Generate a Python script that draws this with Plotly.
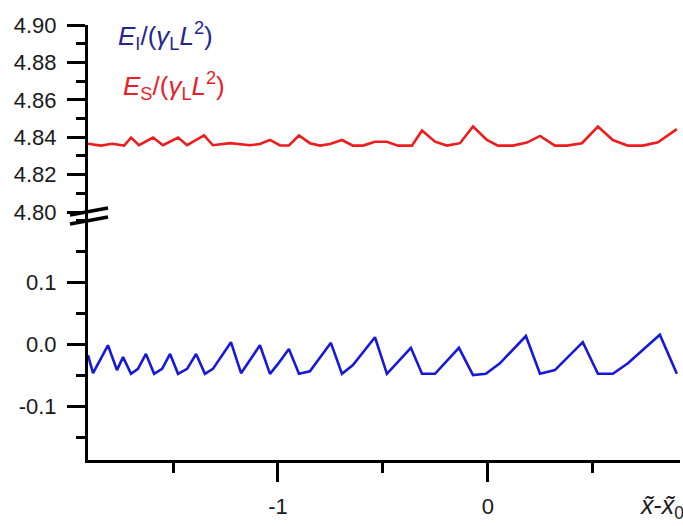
import plotly.graph_objects as go

# Interface energy (blue) and surface energy (red) against the shifted position
x_i = [-1.905, -1.881, -1.810, -1.767, -1.738, -1.700, -1.667, -1.629, -1.590, -1.552,
       -1.514, -1.476, -1.433, -1.390, -1.348, -1.310, -1.224, -1.176, -1.086, -1.038,
       -1.000, -0.948, -0.900, -0.848, -0.748, -0.695, -0.643, -0.538, -0.481, -0.367,
       -0.314, -0.252, -0.138, -0.071, -0.010, 0.057, 0.181, 0.248, 0.319, 0.452,
       0.524, 0.595, 0.667, 0.819, 0.900]
e_i = [-0.018, -0.047, -0.002, -0.042, -0.021, -0.048, -0.040, -0.016, -0.048, -0.040,
       -0.016, -0.048, -0.040, -0.016, -0.048, -0.040, 0.003, -0.047, -0.002, -0.048,
       -0.032, -0.008, -0.048, -0.044, 0.002, -0.048, -0.034, 0.011, -0.048, -0.006,
       -0.048, -0.048, -0.006, -0.050, -0.048, -0.031, 0.013, -0.048, -0.042, 0.003,
       -0.048, -0.048, -0.031, 0.015, -0.048]

x_s = [-1.905, -1.843, -1.790, -1.733, -1.700, -1.662, -1.595, -1.548, -1.476, -1.433,
       -1.352, -1.310, -1.229, -1.133, -1.086, -1.038, -0.990, -0.948, -0.900, -0.848,
       -0.800, -0.752, -0.695, -0.643, -0.595, -0.538, -0.481, -0.429, -0.362, -0.314,
       -0.252, -0.195, -0.133, -0.071, -0.005, 0.048, 0.119, 0.186, 0.248, 0.319,
       0.376, 0.448, 0.524, 0.595, 0.667, 0.738, 0.810, 0.900]
e_s = [4.8365, 4.8355, 4.8365, 4.8355, 4.8398, 4.8357, 4.8398, 4.8357, 4.8398, 4.8357,
       4.8410, 4.8357, 4.8368, 4.8357, 4.8364, 4.8386, 4.8356, 4.8356, 4.8409, 4.8368,
       4.8355, 4.8364, 4.8385, 4.8355, 4.8355, 4.8376, 4.8376, 4.8355, 4.8355, 4.8436,
       4.8376, 4.8355, 4.8368, 4.8457, 4.8385, 4.8355, 4.8355, 4.8371, 4.8407, 4.8355,
       4.8355, 4.8368, 4.8457, 4.8385, 4.8355, 4.8355, 4.8373, 4.8443]

x_ticks = [-1, 0]
x_ticktext = ["-1", "0"]
low_ticks = [-0.1, 0.0, 0.1]
low_ticktext = ["-0.1", "0.0", "0.1"]
high_ticks = [4.80, 4.82, 4.84, 4.86, 4.88, 4.90]
high_ticktext = ["4.80", "4.82", "4.84", "4.86", "4.88", "4.90"]

W, H = 683, 526
ML, MR, MT, MB = 88, 3, 25, 66
PW, PH = W - ML - MR, H - MT - MB
BREAK_PX = 212  # pixel row of the axis break
split = (H - MB - BREAK_PX) / PH

BLUE = "#1818d8"
RED = "#ee1c1c"
FONT = "Liberation Sans, Arial, sans-serif"

fig = go.Figure()
fig.add_trace(go.Scatter(x=x_i, y=e_i, mode="lines", line=dict(color=BLUE, width=2.6),
                         xaxis="x", yaxis="y", showlegend=False))
fig.add_trace(go.Scatter(x=x_s, y=e_s, mode="lines", line=dict(color=RED, width=2.6),
                         xaxis="x", yaxis="y2", showlegend=False))

axis_common = dict(showline=True, linecolor="black", linewidth=3, ticks="outside",
                   tickcolor="black", tickwidth=3, showgrid=False, zeroline=False,
                   tickfont=dict(family=FONT, size=22, color="#1a1a1a"))

fig.update_layout(
    width=W, height=H,
    margin=dict(l=ML, r=MR, t=MT, b=MB),
    paper_bgcolor="white", plot_bgcolor="white",
    xaxis=dict(range=[-1.905, 0.915], tickvals=x_ticks, ticktext=x_ticktext, ticklen=19,
               minor=dict(dtick=0.5, tick0=0, ticklen=10, tickwidth=3, ticks="outside",
                          tickcolor="black"),
               ticklabelstandoff=6, anchor="y", **axis_common),
    yaxis=dict(domain=[0, split], range=[-0.187, 0.213], tickvals=low_ticks,
               ticktext=low_ticktext, ticklen=18,
               minor=dict(dtick=0.05, tick0=0, ticklen=9, tickwidth=3, ticks="outside",
                          tickcolor="black"),
               ticklabelstandoff=6, anchor="x", **axis_common),
    yaxis2=dict(domain=[split, 1], range=[4.80, 4.90], tickvals=high_ticks,
                ticktext=high_ticktext, ticklen=18,
                minor=dict(dtick=0.01, tick0=4.80, ticklen=9, tickwidth=3, ticks="outside",
                           tickcolor="black"),
                ticklabelstandoff=6, anchor="x", **axis_common),
)

def px_to_paper(px, py):
    return (px - ML) / PW, (H - MB - py) / PH

# Axis-break marks
for dy in (0, 9):
    x0, y0 = px_to_paper(70, 215 + dy)
    x1, y1 = px_to_paper(108, 208 + dy)
    fig.add_shape(type="line", xref="paper", yref="paper", x0=x0, y0=y0, x1=x1, y1=y1,
                  line=dict(color="black", width=3.5))

# Series labels
lx, ly = px_to_paper(116, 36)
fig.add_annotation(xref="paper", yref="paper", x=lx, y=ly, xanchor="left", yanchor="middle",
                   showarrow=False,
                   text="<i>E</i><sub>I</sub>/(<i>γ</i><sub>L</sub><i>L</i><sup>2</sup>)",
                   font=dict(family=FONT, size=26, color="#26268e"))
lx, ly = px_to_paper(121, 86)
fig.add_annotation(xref="paper", yref="paper", x=lx, y=ly, xanchor="left", yanchor="middle",
                   showarrow=False,
                   text="<i>E</i><sub>S</sub>/(<i>γ</i><sub>L</sub><i>L</i><sup>2</sup>)",
                   font=dict(family=FONT, size=26, color="#e8202a"))

# x-axis title
tx, ty = px_to_paper(638, 507)
fig.add_annotation(xref="paper", yref="paper", x=tx, y=ty, xanchor="left", yanchor="middle",
                   showarrow=False,
                   text="<i>x\u0303</i>-<i>x\u0303</i><sub>0</sub>",
                   font=dict(family=FONT, size=25, color="#1a1a1a"))

fig.write_html("out.html")
